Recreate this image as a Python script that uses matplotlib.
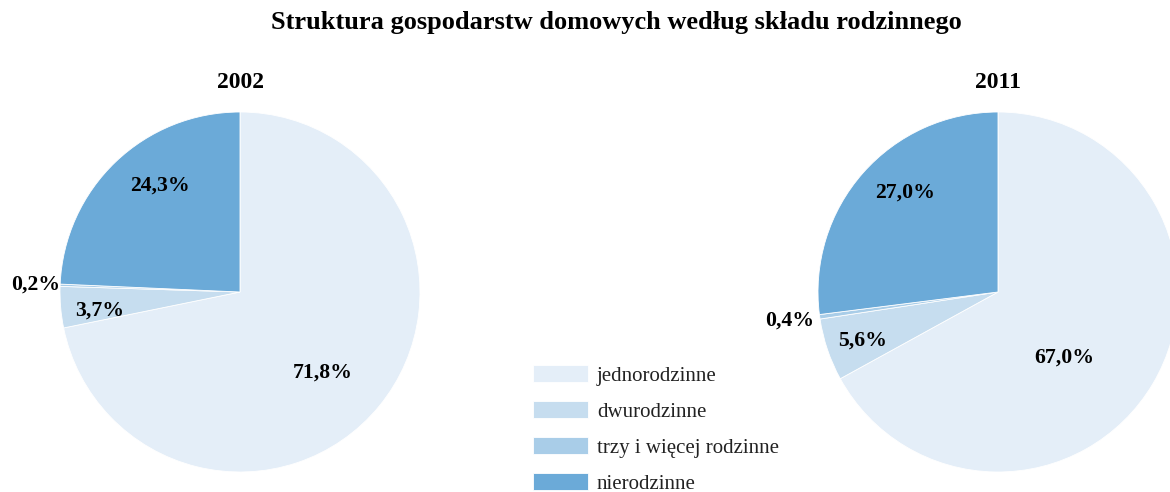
import numpy as np
import matplotlib
matplotlib.use("Agg")
import matplotlib.pyplot as plt

# data
categories = ['jednorodzinne', 'dwurodzinne', 'trzy i więcej rodzinne', 'nierodzinne']
years = ['2002', '2011']
values_2002 = [71.8, 3.7, 0.2, 24.3]
values_2011 = [67.0, 5.6, 0.4, 27.0]
labels_2002 = ['71,8%', '3,7%', '0,2%', '24,3%']
labels_2011 = ['67,0%', '5,6%', '0,4%', '27,0%']

colors = ['#E4EEF8', '#C6DDEF', '#A9CDE8', '#6BAAD8']

plt.rcParams['font.family'] = ['Liberation Serif', 'DejaVu Serif']

W, H = 1170, 492
fig = plt.figure(figsize=(W / 100, H / 100), dpi=100)
ax = fig.add_axes([0, 0, 1, 1])

R = 180
# label placement: distance (fraction of radius) and angle nudge (deg) per slice
lab_dist = {'2002': [0.645, 0.785, 1.134, 0.74], '2011': [0.52, 0.797, 1.166, 0.755]}
lab_turn = {'2002': [-5, 2.5, 0, -7], '2011': [-14, 1, 0, -5.4]}

pies = [('2002', values_2002, labels_2002, (240, H - 292)),
        ('2011', values_2011, labels_2011, (998, H - 292))]

for year, vals, labs, c in pies:
    wedges, _ = ax.pie(vals, colors=colors, startangle=90, counterclock=False,
                       center=c, radius=R, frame=True,
                       wedgeprops=dict(edgecolor='white', linewidth=0.6))
    for w, lab, f, t in zip(wedges, labs, lab_dist[year], lab_turn[year]):
        mid = np.deg2rad((w.theta1 + w.theta2) / 2 + t)
        x = c[0] + R * f * np.cos(mid)
        y = c[1] + R * f * np.sin(mid)
        ax.text(x, y, lab, ha='center', va='center', fontsize=15.7,
                fontweight='bold', color='black')
    ax.text(c[0], c[1] + R + 29, year, ha='center', va='center',
            fontsize=17, fontweight='bold', color='black')

ax.set_xlim(0, W)
ax.set_ylim(0, H)
ax.set_aspect('equal')
ax.axis('off')

ax.text(616, H - 22, 'Struktura gospodarstw domowych według składu rodzinnego',
        ha='center', va='center', fontsize=19, fontweight='bold', color='black')

leg = fig.legend(wedges, categories, loc='upper left',
                 bbox_to_anchor=(533 / W, 1 - 365 / H), frameon=False,
                 fontsize=15, handlelength=2.64, handleheight=0.91,
                 labelspacing=0.72, handletextpad=0.43, borderpad=0,
                 borderaxespad=0)
for t in leg.get_texts():
    t.set_color('#222222')

fig.savefig('out.png', dpi=100)
